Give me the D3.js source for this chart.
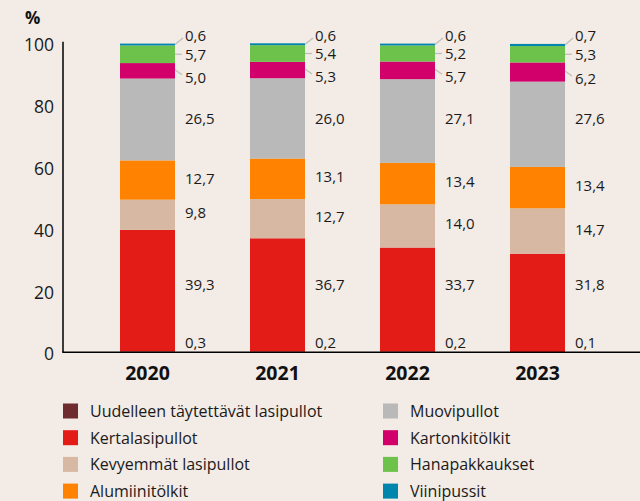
<!DOCTYPE html>
<html><head><meta charset="utf-8">
<script src="https://cdn.jsdelivr.net/npm/d3@7"></script>
<style>
html,body{margin:0;padding:0;background:#f3ebe5;}
svg{display:block;font-family:"Open Sans",sans-serif;}
</style></head>
<body><svg id="c" width="640" height="501"></svg>
<script>
const years = ["2020","2021","2022","2023"];
const seriesNames = ["Uudelleen täytettävät lasipullot","Kertalasipullot","Kevyemmät lasipullot","Alumiinitölkit","Muovipullot","Kartonkitölkit","Hanapakkaukset","Viinipussit"];
const colors = ["#6e2c2e","#e31c18","#d7b9a3","#ff8300","#b8b9b8","#d1006a","#6cc24a","#0085ad"];
const reuse = [0.3,0.2,0.2,0.1];
const kerta = [39.3,36.7,33.7,31.8];
const kevy = [9.8,12.7,14.0,14.7];
const alu = [12.7,13.1,13.4,13.4];
const muovi = [26.5,26.0,27.1,27.6];
const karton = [5.0,5.3,5.7,6.2];
const hana = [5.7,5.4,5.2,5.3];
const viini = [0.6,0.6,0.6,0.7];
const yTicks = [0,20,40,60,80,100];

const values = [reuse,kerta,kevy,alu,muovi,karton,hana,viini];
const svg = d3.select("#c");
const x = d3.scaleBand().domain(years).range([120,565]).paddingInner(75/130).paddingOuter(0);
const y = d3.scaleLinear().domain([0,100]).range([352.3,43.3]);

const rows = years.map((yr,i)=>{const o={year:yr};seriesNames.forEach((s,k)=>o[s]=values[k][i]);return o;});
const stack = d3.stack().keys(seriesNames)(rows);

// bars
stack.forEach((layer,k)=>{
  svg.append("g").selectAll("rect").data(layer).join("rect")
    .attr("x",d=>x(d.data.year)).attr("width",x.bandwidth())
    .attr("y",d=>y(d[1])).attr("height",d=>Math.max(0,y(d[0])-y(d[1])))
    .attr("fill",colors[k]);
});

// axes
svg.append("line").attr("x1",63).attr("x2",63).attr("y1",y(100)-1.5).attr("y2",y(0)).attr("stroke","#000").attr("stroke-width",1.5);
svg.append("line").attr("x1",62.3).attr("x2",640).attr("y1",y(0)).attr("y2",y(0)).attr("stroke","#000").attr("stroke-width",1.5);
svg.append("g").selectAll("text").data(yTicks).join("text")
  .attr("x",54).attr("y",d=>y(d)+1).attr("text-anchor","end").attr("dominant-baseline","central")
  .attr("font-size",17.5).attr("fill","#1a1a1a").text(d=>d);
svg.append("text").attr("x",25).attr("y",17).attr("dominant-baseline","central").attr("font-size",17).attr("font-weight","bold").attr("fill","#111").text("%");

// year labels
svg.append("g").selectAll("text").data(years).join("text")
  .attr("x",d=>x(d)+x.bandwidth()/2).attr("y",372).attr("text-anchor","middle").attr("dominant-baseline","central")
  .attr("font-size",19.5).attr("font-weight","bold").attr("fill","#111").text(d=>d);

// value labels
const fmt = v=>v.toFixed(1).replace(".",",");
stack.forEach((layer,k)=>{
  layer.forEach(d=>{
    const bx = x(d.data.year)+x.bandwidth();
    const mid = y((d[0]+d[1])/2);
    let ly = mid-2.5, lead=null;
    if(k===0){ ly = y(0)-10; }
    else if(k===1){ ly = y(22); }
    else if(k===4){ ly = y(75.9); }
    else if(k===7){ ly = 35; lead=[bx,mid,bx+8,38]; }
    else if(k===6){ ly = mid; lead=[bx,mid,bx+7,mid]; }
    else if(k===5){ ly = mid+6; lead=[bx,mid-1,bx+7,mid+4]; }
    if(lead) svg.append("line").attr("x1",lead[0]).attr("y1",lead[1]).attr("x2",lead[2]).attr("y2",lead[3]).attr("stroke","#bdbdbd").attr("stroke-width",1.2);
    svg.append("text").attr("x",bx+10).attr("y",ly).attr("dominant-baseline","central")
      .attr("font-size",15).attr("fill","#1a1a1a").text(fmt(d.data[seriesNames[k]]));
  });
});

// legend
const leg = svg.append("g");
seriesNames.forEach((s,k)=>{
  const col = Math.floor(k/4), row = k%4;
  const lx = col===0?63:383, ly = 411+row*26.7;
  leg.append("rect").attr("x",lx).attr("y",ly-7.5).attr("width",15).attr("height",15).attr("fill",colors[k]);
  leg.append("text").attr("x",lx+27).attr("y",ly).attr("dominant-baseline","central").attr("font-size",16).attr("fill","#1a1a1a").text(s);
});
</script></body></html>
